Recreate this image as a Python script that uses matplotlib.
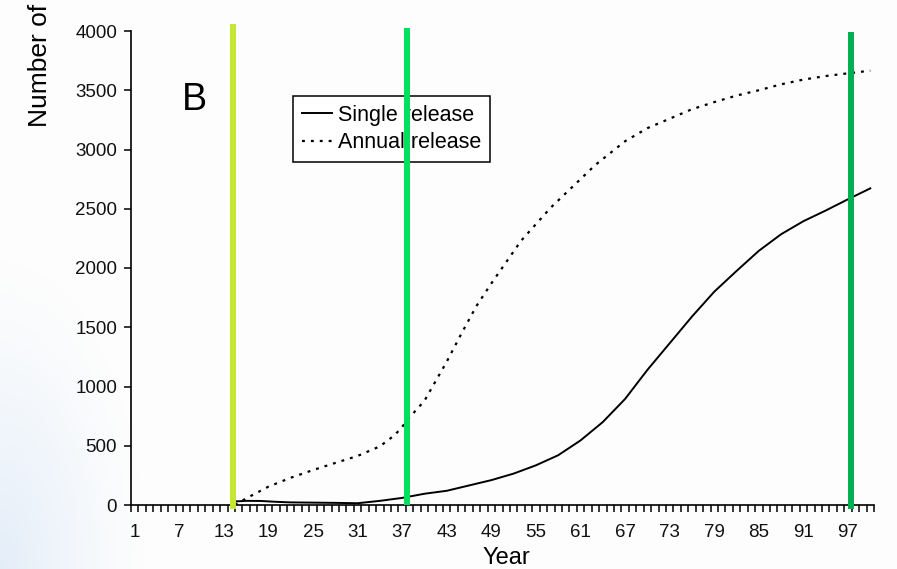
import numpy as np
import matplotlib
matplotlib.use("Agg")
import matplotlib.pyplot as plt

plt.rcParams['font.family'] = ['Liberation Sans', 'DejaVu Sans']

# ---- data ----
single_years = [14.5, 16, 18, 20, 22, 25, 28, 31, 34, 37, 40, 43, 46, 49, 52, 55, 58,
                61, 64, 67, 70, 73, 76, 79, 82, 85, 88, 91, 94, 97, 100]
single_vals = [30, 35, 34, 27, 22, 20, 18, 15, 35, 60, 95, 120, 165, 210, 265, 335, 420,
               545, 700, 895, 1140, 1365, 1590, 1800, 1975, 2145, 2285, 2395, 2485, 2580, 2672]

annual_years = [14.5, 16, 19, 22, 25, 28, 31, 34, 36, 37, 38, 40, 41, 43, 45, 47, 49, 51,
                53, 55, 57, 59, 61, 63, 65, 67, 70, 73, 76, 79, 82, 85, 88, 91, 94, 97, 100]
annual_vals = [0, 56, 155, 230, 295, 355, 414, 495, 590, 660, 740, 880, 990, 1210, 1450,
               1680, 1870, 2050, 2230, 2370, 2510, 2630, 2750, 2870, 2970, 3070, 3180, 3260,
               3340, 3400, 3455, 3500, 3550, 3590, 3620, 3643, 3665]

release_marks = [14.2, 37.6, 97.4]
release_tops = [4060, 4025, 3992]
release_bottoms = [-34, 0, -34]
release_colors = ['#C5E632', '#00E05C', '#00B050']

xtick_labels = list(range(1, 101, 6))
ytick_vals = list(range(0, 4001, 500))

# ---- figure ----
W, H = 897, 569
fig = plt.figure(figsize=(W / 100, H / 100), dpi=100)

# subtle slide background gradient (bottom-left bluish)
bg = fig.add_axes([0, 0, 1, 1], zorder=-10)
yy, xx = np.mgrid[0:H, 0:W]
d = np.sqrt((xx / 150.0) ** 2 + ((H - yy) / 320.0) ** 2)
t = np.clip(1 - d, 0, 1) ** 1.3
img = np.zeros((H, W, 3))
base = np.array([0.993, 0.993, 0.993])
blue = np.array([0.89, 0.93, 0.975])
img[:] = base * (1 - t[..., None]) + blue * t[..., None]
bg.imshow(img, aspect='auto', extent=[0, 1, 0, 1])
bg.axis('off')

ax = fig.add_axes([131 / W, 1 - 505 / H, (874 - 131) / W, (505 - 31) / H])
ax.patch.set_alpha(0)

ax.plot(single_years, single_vals, color='black', lw=1.4, label='Single release', zorder=3)
ax.plot(annual_years, annual_vals, color='black', lw=1.6, linestyle=(0, (1.3, 2.7)),
        label='Annual release', zorder=3)

ax.set_xlim(0.5, 100.5)
ax.set_ylim(0, 4000)

for s in ['top', 'right']:
    ax.spines[s].set_visible(False)
for s in ['left', 'bottom']:
    ax.spines[s].set_linewidth(1.2)
    ax.spines[s].set_color('black')

ax.set_xticks(xtick_labels)
ax.set_xticklabels([str(v) for v in xtick_labels])
ax.set_xticks(np.arange(0.5, 101, 1), minor=True)
ax.tick_params(axis='x', which='major', length=0, pad=14, labelsize=13.5, colors='#111111')
ax.tick_params(axis='x', which='minor', length=5, width=1.1, direction='out')
ax.set_yticks(ytick_vals)
ax.set_yticklabels([str(v) for v in ytick_vals])
ax.tick_params(axis='y', which='major', length=5, width=1.1, direction='out', pad=5,
               labelsize=13.5, colors='#111111')
ax.tick_params(axis='both', color='black')

leg = ax.legend(loc='upper left', bbox_to_anchor=(0.218, 0.862), frameon=True,
                fancybox=False, edgecolor='black', fontsize=15.5, handlelength=1.4,
                handletextpad=0.3, borderpad=0.4, labelspacing=0.3, borderaxespad=0)
leg.get_frame().set_linewidth(1.1)
leg.get_frame().set_facecolor('white')
leg.get_frame().set_alpha(1)
leg.set_zorder(5)

ax.vlines(release_marks, release_bottoms, release_tops, colors=release_colors,
          linewidth=4.3, zorder=8, clip_on=False)

ax.text(0.069, 0.855, 'B', transform=ax.transAxes, fontsize=27, ha='left', va='center')

fig.text(40 / W, 1 - 4 / H, 'Number of', rotation=90, ha='center', va='top', fontsize=19)
fig.text(506 / W, 1 - 558 / H, 'Year', ha='center', va='center', fontsize=17)

fig.savefig('out.png', dpi=100)
